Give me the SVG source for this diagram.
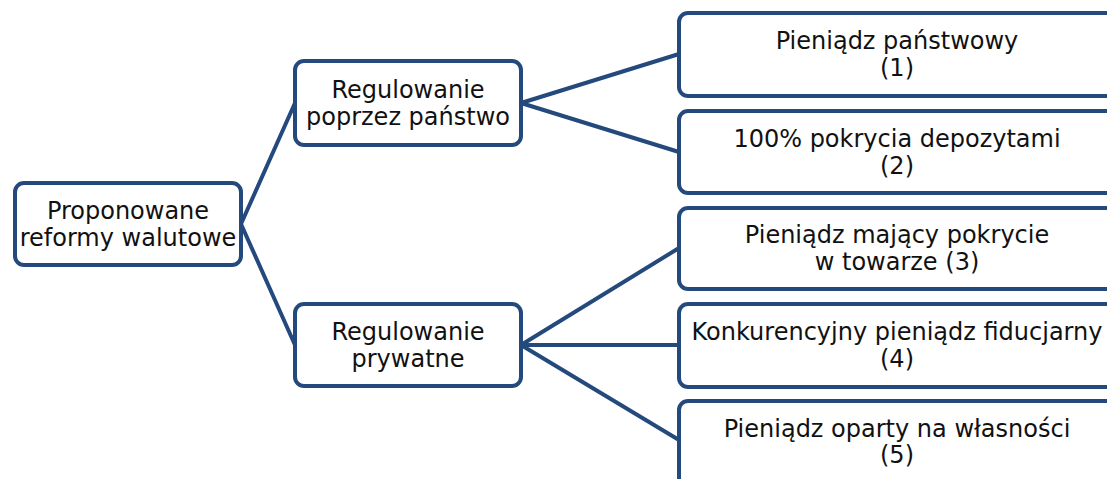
<svg xmlns="http://www.w3.org/2000/svg" width="1107" height="479" viewBox="0 0 1107 479">
<style>
.box{fill:#fff;stroke:#24497D;stroke-width:4}
.ln{stroke:#24497D;stroke-width:4;fill:none;stroke-linecap:round}
text{font-family:"DejaVu Sans",Verdana,sans-serif;font-size:24px;fill:#111;text-anchor:middle}
</style>
<rect width="1107" height="479" fill="#fff"/>
<g id="connectors">
<line class="ln" x1="241" y1="224" x2="295" y2="103"/>
<line class="ln" x1="241" y1="224" x2="295" y2="345"/>
<line class="ln" x1="521" y1="103" x2="679" y2="54"/>
<line class="ln" x1="521" y1="103" x2="679" y2="152"/>
<line class="ln" x1="521" y1="345" x2="679" y2="248"/>
<line class="ln" x1="521" y1="345" x2="679" y2="345"/>
<line class="ln" x1="521" y1="345" x2="679" y2="440"/>
</g>
<g id="root">
<rect class="box" x="15" y="183" width="226" height="82" rx="9"/>
<text x="128" y="219">Proponowane</text>
<text x="128" y="246">reformy walutowe</text>
</g>
<g id="panstwo">
<rect class="box" x="295" y="61" width="226" height="84" rx="9"/>
<text x="408" y="98">Regulowanie</text>
<text x="408" y="125">poprzez państwo</text>
</g>
<g id="prywatne">
<rect class="box" x="295" y="304" width="226" height="82" rx="9"/>
<text x="408" y="340">Regulowanie</text>
<text x="408" y="367">prywatne</text>
</g>
<g id="n1">
<rect class="box" x="679" y="13" width="440" height="83" rx="9"/>
<text x="897" y="49">Pieniądz państwowy</text>
<text x="897" y="76">(1)</text>
</g>
<g id="n2">
<rect class="box" x="679" y="111" width="440" height="82" rx="9"/>
<text x="897" y="147">100% pokrycia depozytami</text>
<text x="897" y="174">(2)</text>
</g>
<g id="n3">
<rect class="box" x="679" y="208" width="440" height="81" rx="9"/>
<text x="897" y="243">Pieniądz mający pokrycie</text>
<text x="897" y="270">w towarze (3)</text>
</g>
<g id="n4">
<rect class="box" x="679" y="304" width="440" height="83" rx="9"/>
<text x="897" y="340">Konkurencyjny pieniądz fiducjarny</text>
<text x="897" y="367">(4)</text>
</g>
<g id="n5">
<rect class="box" x="679" y="401" width="440" height="100" rx="9"/>
<text x="897" y="437">Pieniądz oparty na własności</text>
<text x="897" y="463">(5)</text>
</g>
</svg>
